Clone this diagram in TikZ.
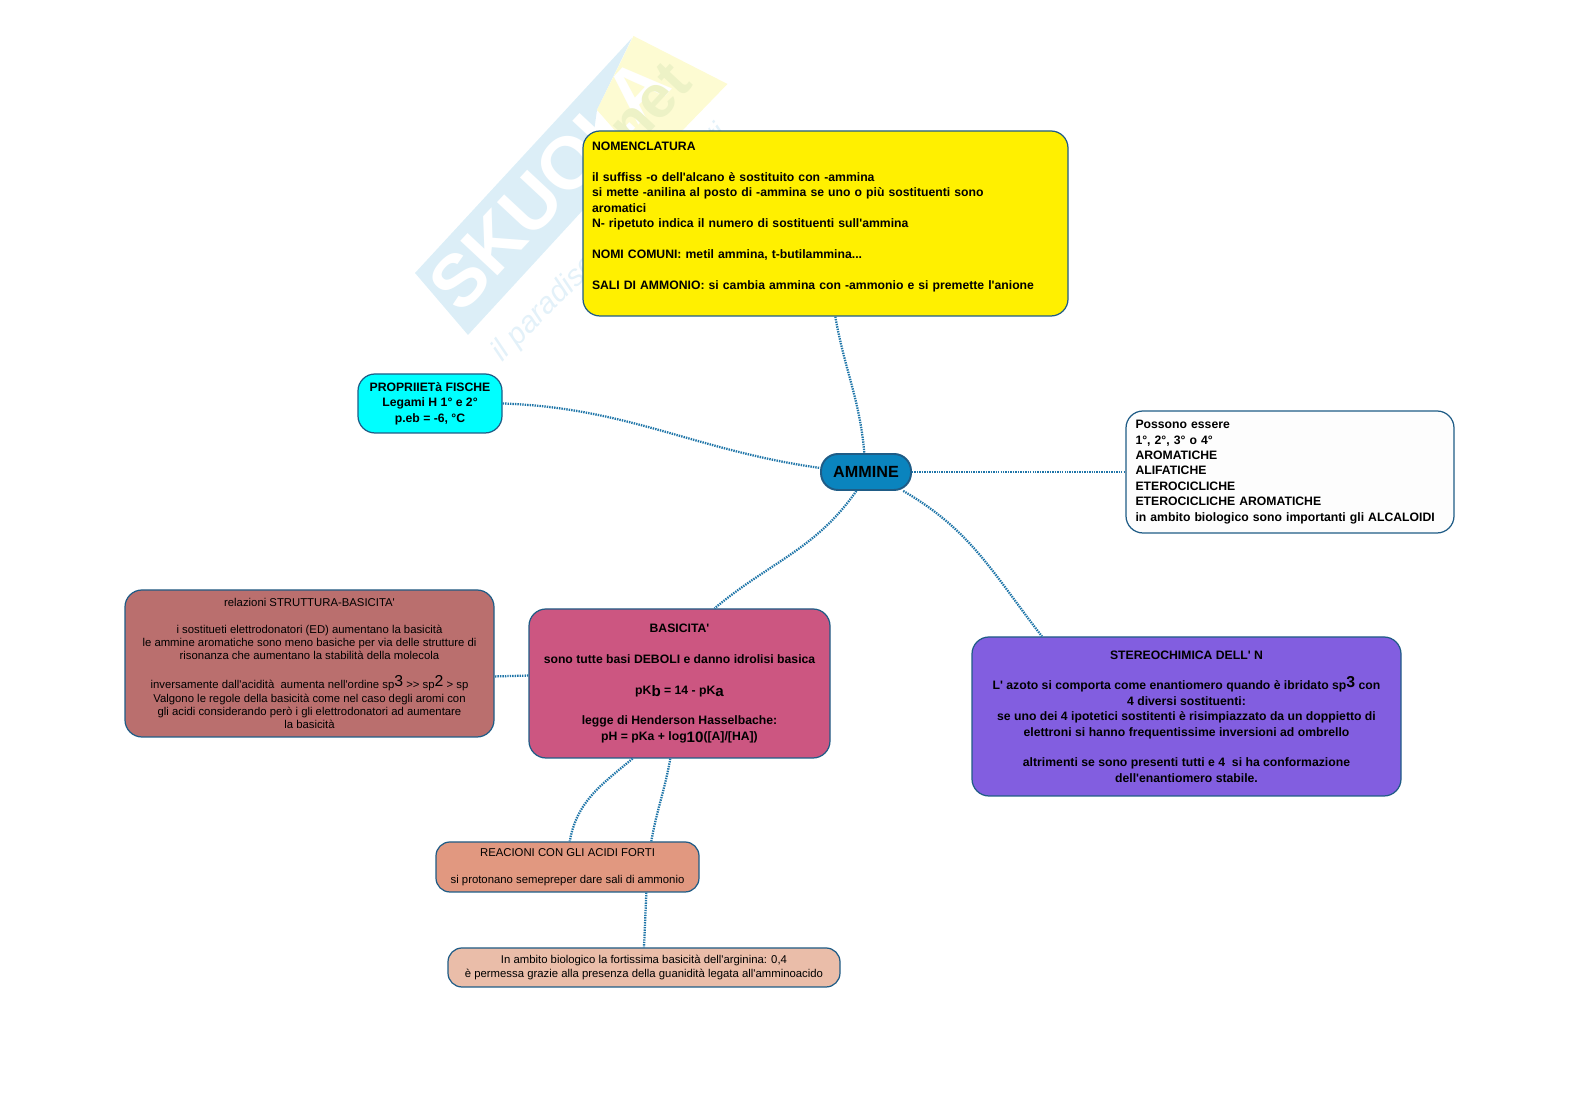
\documentclass[tikz,border=0pt]{standalone}
\usepackage{fontspec}
\newfontfamily\testo{Liberation Sans}
\usetikzlibrary{calc}
\definecolor{bordo}{HTML}{1F5C86}
\definecolor{filo}{HTML}{1F75A8}
\definecolor{giallo}{HTML}{FFF000}
\definecolor{ciano}{HTML}{00FFFF}
\definecolor{centro}{HTML}{0A84BE}
\definecolor{rosa}{HTML}{CC5681}
\definecolor{mattone}{HTML}{BA6F6E}
\definecolor{viola}{HTML}{825EE0}
\definecolor{salmone}{HTML}{E19880}
\definecolor{pesca}{HTML}{EABDA9}
\definecolor{bianco}{HTML}{FDFDFD}
\definecolor{wmblu}{HTML}{DCEEF7}
\definecolor{wmgiallo}{HTML}{FDFBD2}
\definecolor{wmnet}{HTML}{EDF2C6}
\newcommand{\sopra}[1]{\raisebox{0.45ex}{\fontsize{9}{8}\selectfont #1}}
\newcommand{\sotto}[1]{\raisebox{-0.4ex}{\fontsize{8.6}{8}\selectfont #1}}
\tikzset{
  box/.style={draw=bordo,rounded corners=0.34cm,line width=0.7pt,text=black,inner sep=0pt,align=center},
  forte/.style={font=\testo\bfseries\fontsize{6.95}{8.75}\selectfont},
  lieve/.style={font=\testo\fontsize{6.45}{7.6}\selectfont},
  legame/.style={filo,line width=1.3pt,dash pattern=on 0.8pt off 0.6pt},
}
\begin{document}
\begin{tikzpicture}
  \useasboundingbox (0,0) rectangle (31.54,22.32);
  % filigrana
  \fill[wmblu] (8.30,16.86)--(12.64,21.56)--(11.94,20.12)--(11.66,18.12)--(9.36,15.62)--cycle;
  \fill[wmgiallo] (11.94,20.12)--(12.67,21.60)--(14.55,20.64)--(12.94,18.98)--cycle;
  \node[white,rotate=47,font=\testo\bfseries\fontsize{42}{42}\selectfont] (marchio) at (10.98,18.64) {SKUOLA};
  \node[wmnet,rotate=47,font=\testo\bfseries\fontsize{34}{34}\selectfont] (punto) at (12.88,20.10) {.net};
  \node[wmblu!80!white,rotate=45,font=\testo\itshape\fontsize{17}{17}\selectfont] (motto) at (12.2,17.45) {il paradiso degli studenti};

  \node[box,forte,fill=giallo,minimum width=9.70cm,minimum height=3.70cm,align=left,text width=9.34cm] (nomen) at (16.51,17.85) {NOMENCLATURA\\[\baselineskip]
    il suffiss -o dell'alcano è sostituito con -ammina\\
    si mette -anilina al posto di -ammina se uno o più sostituenti sono\\
    aromatici\\
    N- ripetuto indica il numero di sostituenti sull'ammina\\[\baselineskip]
    NOMI COMUNI: metil ammina, t-butilammina...\\[\baselineskip]
    SALI DI AMMONIO: si cambia ammina con -ammonio e si premette l'anione\\\mbox{}};
  \node[box,forte,fill=ciano,minimum width=2.88cm,minimum height=1.18cm] (propr) at (8.60,14.25) {PROPRIIETà FISCHE\\Legami H 1° e 2°\\p.eb = -6, °C};
  \node[box,fill=centro,minimum width=1.80cm,minimum height=0.72cm,line width=1.1pt,font=\testo\bfseries\fontsize{9.2}{10}\selectfont] (ammine) at (17.32,12.88) {AMMINE};
  \node[box,forte,fill=bianco,minimum width=6.56cm,minimum height=2.44cm,align=left,text width=6.18cm] (possono) at (25.80,12.88) {Possono essere\\1°, 2°, 3° o 4°\\AROMATICHE\\ALIFATICHE\\ETEROCICLICHE\\ETEROCICLICHE AROMATICHE\\in ambito biologico sono importanti gli ALCALOIDI};
  \node[box,forte,fill=rosa,minimum width=6.02cm,minimum height=2.98cm] (basicita) at (13.59,8.65) {BASICITA'\\[\baselineskip]
    sono tutte basi DEBOLI e danno idrolisi basica\\[\baselineskip]
    pK\sotto{b} = 14 - pK\sotto{a}\\[\baselineskip]
    legge di Henderson Hasselbache:\\
    pH = pKa + log\sotto{10}([A]/[HA])};
  \node[box,lieve,fill=mattone,minimum width=7.38cm,minimum height=2.94cm] (relazioni) at (6.19,9.05) {relazioni STRUTTURA-BASICITA'\\[\baselineskip]
    i sostitueti elettrodonatori (ED) aumentano la basicità\\
    le ammine aromatiche sono meno basiche per via delle strutture di\\
    risonanza che aumentano la stabilità della molecola\\[\baselineskip]
    inversamente dall'acidità \ aumenta nell'ordine sp\sopra{3} >> sp\sopra{2} > sp\\
    Valgono le regole della basicità come nel caso degli aromi con\\
    gli acidi considerando però i gli elettrodonatori ad aumentare\\
    la basicità};
  \node[box,forte,fill=viola,minimum width=8.58cm,minimum height=3.18cm] (stereo) at (23.73,7.99) {STEREOCHIMICA DELL' N\\[\baselineskip]
    L' azoto si comporta come enantiomero quando è ibridato sp\sopra{3} con\\
    4 diversi sostituenti:\\
    se uno dei 4 ipotetici sostitenti è risimpiazzato da un doppietto di\\
    elettroni si hanno frequentissime inversioni ad ombrello\\[\baselineskip]
    altrimenti se sono presenti tutti e 4 \ si ha conformazione\\
    dell'enantiomero stabile.};
  \node[box,lieve,fill=salmone,minimum width=5.26cm,minimum height=1.00cm,rounded corners=0.28cm] (reazioni) at (11.35,4.98) {REACIONI CON GLI ACIDI FORTI\\[\baselineskip]
    si protonano semepreper dare sali di ammonio};
  \node[box,lieve,fill=pesca,minimum width=7.84cm,minimum height=0.78cm,rounded corners=0.28cm] (arginina) at (12.88,2.97) {In ambito biologico la fortissima basicità dell'arginina: 0,4\\
    è permessa grazie alla presenza della guanidità legata all'amminoacido};

  \draw[legame] (nomen.-84) to[out=-80,in=95] (ammine.95);
  \draw[legame] (propr.east) to[out=-2,in=172] (ammine.175);
  \draw[legame] (ammine.east) -- (possono.west);
  \draw[legame] (ammine.-117) to[out=-125,in=40] (basicita.65);
  \draw[legame] (ammine.-27) to[out=-30,in=128] (stereo.151);
  \draw[legame] (basicita.177) -- (relazioni.-4);
  \draw[legame] (basicita.-122) to[out=-140,in=80] (reazioni.85);
  \draw[legame] (basicita.-97) to[out=-100,in=80] (reazioni.17);
  \draw[legame] (reazioni.-18) -- (arginina.north);
\end{tikzpicture}
\end{document}
